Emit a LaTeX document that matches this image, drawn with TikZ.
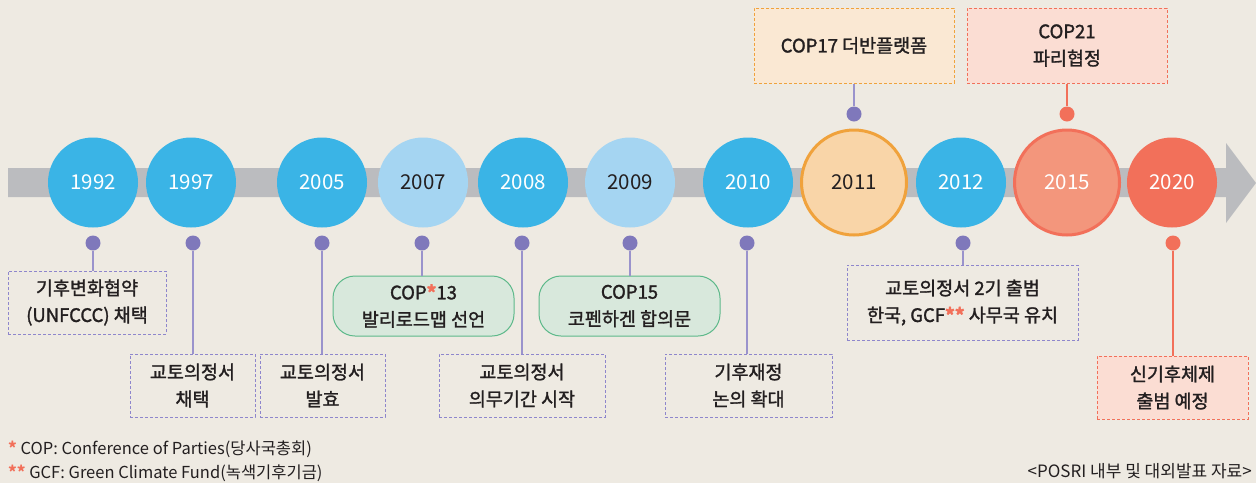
\documentclass[tikz,border=0pt]{standalone}
\usepackage{fontspec}
\setmainfont{Noto Sans CJK KR}
\newfontfamily\boxfam[FakeBold=1.5]{Noto Sans CJK KR}
\definecolor{bg}{HTML}{EEEAE2}
\definecolor{bar}{HTML}{BBBCBF}
\definecolor{cblue}{HTML}{3AB4E6}
\definecolor{clight}{HTML}{A5D5F2}
\definecolor{corfill}{HTML}{F9D5A8}
\definecolor{corline}{HTML}{F0A23C}
\definecolor{csalfill}{HTML}{F3967C}
\definecolor{cred}{HTML}{F2705A}
\definecolor{dotp}{HTML}{7F78BB}
\definecolor{linep}{HTML}{9A93CC}
\definecolor{boxp}{HTML}{8E86CC}
\definecolor{gfill}{HTML}{D8E8DC}
\definecolor{gline}{HTML}{5DB98A}
\definecolor{pinkfill}{HTML}{FBDDD3}
\definecolor{peachfill}{HTML}{FAE8D3}
\definecolor{txt}{HTML}{231F20}
\newcommand{\yrf}{\fontsize{20.5}{24}\selectfont}
\newcommand{\bxf}{\boxfam\fontsize{18.5}{27}\selectfont}
\newcommand{\fnf}{\fontsize{16.5}{20}\selectfont}
\newcommand{\ra}[1]{\textcolor{cred}{\bfseries #1}}
\tikzset{
  yr/.style={circle, minimum size=90pt, inner sep=0pt, font=\yrf, fill=cblue, text=white},
  yrl/.style={yr, fill=clight, text=txt},
  pdot/.style={circle, fill=dotp, minimum size=15pt, inner sep=0pt},
  rdot/.style={pdot, fill=cred},
  dbox/.style={draw=boxp, dash pattern=on 3pt off 2pt, line width=1pt, align=center, font=\bxf, text=txt, inner sep=0pt},
  gbox/.style={draw=gline, fill=gfill, rounded corners=22pt, line width=1pt, align=center, font=\bxf, text=txt, inner sep=0pt},
  conn/.style={draw=linep, line width=1.3pt},
  rconn/.style={draw=cred, line width=1.3pt},
  note/.style={inner sep=0pt, font=\fnf, text=txt}
}
\begin{document}
\begin{tikzpicture}[x=1pt,y=-1pt]
\fill[bg] (0,0) rectangle (1256,483);
\useasboundingbox (0,0) rectangle (1256,483);
% bar with arrow
\fill[bar] (8,168) -- (1226,168) -- (1226,143) -- (1256,183) -- (1226,223) -- (1226,197) -- (8,197) -- cycle;
% circles
\node[yr] (c1992) at (93,182.5) {1992};
\node[yr] (c1997) at (191,182.5) {1997};
\node[yr] (c2005) at (322,182.5) {2005};
\node[yrl] (c2007) at (423,182.5) {2007};
\node[yr] (c2008) at (523,182.5) {2008};
\node[yrl] (c2009) at (630,182.5) {2009};
\node[yr] (c2010) at (748,182.5) {2010};
\node[yr, fill=corfill, draw=corline, line width=3pt, minimum size=105pt, text=txt] (c2011) at (854,182.5) {2011};
\node[yr] (c2012) at (961,182.5) {2012};
\node[yr, fill=csalfill, draw=cred, line width=3pt, minimum size=105pt] (c2015) at (1067,182.5) {2015};
\node[yr, fill=cred] (c2020) at (1172,182.5) {2020};
% dots
\node[pdot] (d1992) at (93,243) {};
\node[pdot] (d1997) at (193,243) {};
\node[pdot] (d2005) at (322,243) {};
\node[pdot] (d2007) at (422,243) {};
\node[pdot] (d2008) at (522,243) {};
\node[pdot] (d2009) at (630,243) {};
\node[pdot] (d2010) at (747,243) {};
\node[pdot] (d2011) at (854,114) {};
\node[pdot] (d2012) at (963,243) {};
\node[rdot] (d2015) at (1067,114) {};
\node[rdot] (d2020) at (1173,243) {};
% boxes
\node[dbox, minimum width=158pt, minimum height=63pt] (b1992) at (87,302.5) {기후변화협약\\(UNFCCC) 채택};
\node[dbox, minimum width=125pt, minimum height=63pt] (b1997) at (192.5,385.5) {교토의정서\\채택};
\node[dbox, minimum width=125pt, minimum height=63pt] (b2005) at (322.5,385.5) {교토의정서\\발효};
\node[gbox, minimum width=181pt, minimum height=60pt] (b2007) at (423.5,306) {COP\ra{*}13\\발리로드맵 선언};
\node[dbox, minimum width=166pt, minimum height=63pt] (b2008) at (522,385.5) {교토의정서\\의무기간 시작};
\node[gbox, minimum width=181pt, minimum height=60pt] (b2009) at (629.5,306) {COP15\\코펜하겐 합의문};
\node[dbox, minimum width=167pt, minimum height=63pt] (b2010) at (748.5,385.5) {기후재정\\논의 확대};
\node[dbox, minimum width=231pt, minimum height=75pt] (b2012) at (962.5,302.5) {교토의정서 2기 출범\\한국, GCF\ra{**} 사무국 유치};
\node[dbox, draw=cred, fill=pinkfill, minimum width=151pt, minimum height=63pt] (b2020) at (1172.5,387.5) {신기후체제\\출범 예정};
\node[dbox, draw=corline, fill=peachfill, minimum width=200pt, minimum height=75pt] (b2011) at (854,45.5) {COP17 더반플랫폼};
\node[dbox, draw=cred, fill=pinkfill, minimum width=200pt, minimum height=75pt] (b2015) at (1067,45.5) {COP21\\파리협정};
% connectors
\draw[conn] (d1992) -- (b1992.north -| d1992);
\draw[conn] (d1997) -- (b1997.north -| d1997);
\draw[conn] (d2005) -- (b2005.north -| d2005);
\draw[conn] (d2007) -- (b2007.north -| d2007);
\draw[conn] (d2008) -- (b2008.north -| d2008);
\draw[conn] (d2009) -- (b2009.north -| d2009);
\draw[conn] (d2010) -- (b2010.north -| d2010);
\draw[conn] (d2012) -- (b2012.north -| d2012);
\draw[rconn] (d2020) -- (b2020.north -| d2020);
\draw[conn] (b2011.south -| d2011) -- (d2011);
\draw[rconn] (b2015.south -| d2015) -- (d2015);
% footnotes
\node[note, anchor=base west] (fn1) at (8,454.5) {\ra{*} COP: Conference of Parties(당사국총회)};
\node[note, anchor=base west] (fn2) at (8,478.5) {\ra{**} GCF: Green Climate Fund(녹색기후기금)};
\node[note, anchor=base east, font=\fontsize{17}{18}\selectfont] (src) at (1252,477) {<POSRI 내부 및 대외발표 자료>};
\end{tikzpicture}
\end{document}
